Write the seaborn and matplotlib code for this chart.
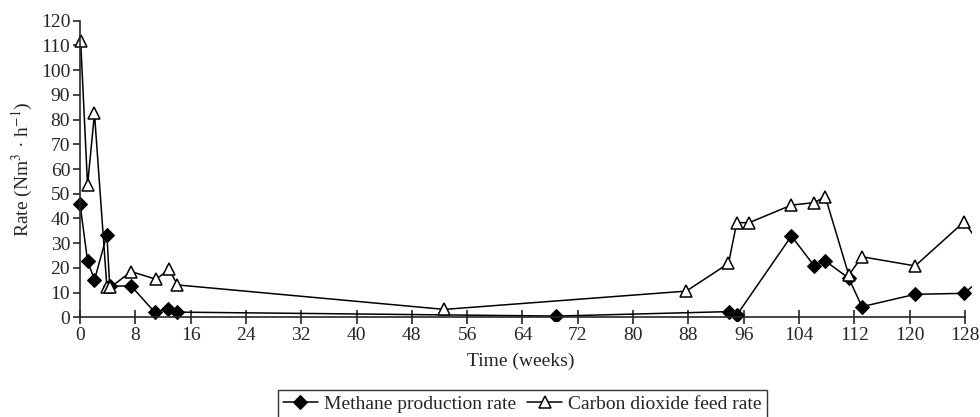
import matplotlib
matplotlib.use("Agg")
import matplotlib.pyplot as plt
import seaborn as sns
import pandas as pd

# weeks and rates
methane_weeks = [0, 1.1, 2.1, 3.9, 4.3, 7.4, 10.8, 12.8, 14.1, 68.9, 93.9, 95.0,
                 102.9, 106.2, 107.8, 111.2, 113.1, 120.8, 127.9, 130.5]
methane_rate = [46, 22.9, 15.1, 33.4, 12.6, 12.7, 2.1, 3.4, 2.1, 0.5, 2.3, 0.9,
                32.9, 20.8, 22.8, 15.8, 4.3, 9.3, 9.7, 16]

co2_weeks = [0.1, 1.1, 2.1, 3.9, 4.4, 7.4, 11.0, 12.9, 14.1, 52.7, 87.7, 93.8,
             95.0, 96.8, 102.9, 106.2, 107.8, 111.2, 113.1, 120.8, 127.9, 130.5]
co2_rate = [111.9, 53.5, 82.5, 12.1, 12.1, 18.5, 15.4, 19.4, 13.1, 3.2, 10.6, 21.8,
            38.3, 38.3, 45.4, 46.4, 48.8, 17.1, 24.5, 20.8, 38.7, 28]

x_ticks = list(range(0, 129, 8))
y_ticks = list(range(0, 121, 10))

sns.set_style("ticks")
plt.rcParams['font.family'] = ['Liberation Serif', 'DejaVu Serif']
plt.rcParams['mathtext.fontset'] = 'stix'

fig = plt.figure(figsize=(9.8, 4.17), dpi=100)
ax = fig.add_axes([0.0710, 0.2302, 0.9207, 0.729])

df_m = pd.DataFrame({"week": methane_weeks, "rate": methane_rate})
df_c = pd.DataFrame({"week": co2_weeks, "rate": co2_rate})

sns.lineplot(data=df_m, x="week", y="rate", ax=ax, sort=False, estimator=None,
             color="black", lw=1.1, marker="D", markersize=7.5,
             markerfacecolor="black", markeredgecolor="black",
             label="Methane production rate")
sns.lineplot(data=df_c, x="week", y="rate", ax=ax, sort=False, estimator=None,
             color="black", lw=1.1, marker="^", markersize=9,
             markerfacecolor="white", markeredgecolor="black", markeredgewidth=1.1,
             label="Carbon dioxide feed rate")

ax.set_xlim(-1.5, 129)
ax.set_ylim(-1.5, 121.5)
ax.spines['left'].set_position(('data', 0))
ax.spines['bottom'].set_position(('data', 0))
ax.spines['left'].set_bounds(0, 120)
ax.spines['bottom'].set_bounds(0, 128)
ax.spines['top'].set_visible(False)
ax.spines['right'].set_visible(False)
for s in ['left', 'bottom']:
    ax.spines[s].set_linewidth(1.2)

ax.set_xticks(x_ticks)
ax.set_yticks(y_ticks)
ax.tick_params(axis='x', direction='inout', length=10, width=1.2, labelsize=14, pad=2)
ax.tick_params(axis='y', direction='out', length=5, width=1.2, labelsize=14, pad=2)

ax.set_xlabel("Time (weeks)", fontsize=14, labelpad=6)
ax.set_ylabel("Rate (Nm$^{3}$ · h$^{-1}$)", fontsize=14, labelpad=4)

ax.get_legend().remove()
handles, labels = ax.get_legend_handles_labels()
leg = fig.legend(handles, labels, loc='upper center', bbox_to_anchor=(0.533, 0.064),
                 ncol=2, fontsize=14, frameon=True, fancybox=False, edgecolor='black',
                 handlelength=1.8, handletextpad=0.3, columnspacing=0.6,
                 borderpad=0.25, borderaxespad=0)
leg.get_frame().set_linewidth(1.0)

fig.savefig("out.png", dpi=100)
